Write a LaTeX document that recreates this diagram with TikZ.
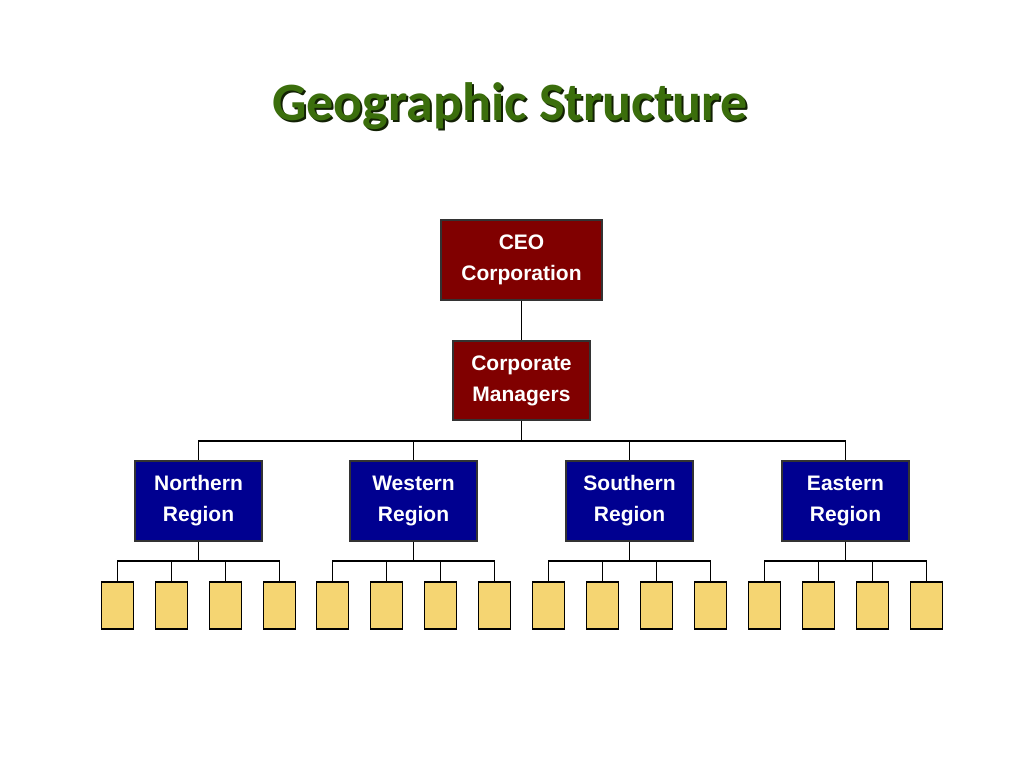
\documentclass[tikz,border=0pt]{standalone}
\usepackage{fontspec}
\setmainfont{Liberation Sans}
\newfontfamily\titlefont{Carlito}
\definecolor{tgreen}{HTML}{3B6E0C}
\definecolor{ceored}{HTML}{800000}
\definecolor{regblue}{HTML}{000090}
\definecolor{unityel}{HTML}{F5D572}
\begin{document}
\begin{tikzpicture}[x=1pt,y=-1pt,
  box/.style={draw=black!80,line width=1.2pt,text=white,font=\bfseries\fontsize{21}{31}\selectfont,align=center,inner sep=0pt},
  redbox/.style={box,fill=ceored},
  bluebox/.style={box,fill=regblue,minimum width=127pt,minimum height=80pt},
  unit/.style={draw=black,line width=1.2pt,fill=unityel,minimum width=32pt,minimum height=47pt,inner sep=0pt},
  conn/.style={line width=1.2pt,black}]
\useasboundingbox (0,0) rectangle (1024,768);
\node[text=black!70!tgreen,font=\titlefont\bfseries\fontsize{54}{60}\selectfont] at (512,108) {Geographic Structure};
\node[text=tgreen,font=\titlefont\bfseries\fontsize{54}{60}\selectfont] (title) at (510,106) {Geographic Structure};
\node[redbox,minimum width=161pt,minimum height=80pt] (ceo) at (521.5,260) {CEO\\Corporation};
\node[redbox,minimum width=137pt,minimum height=79pt] (cm) at (521.5,380.5) {Corporate\\Managers};
\draw[conn] (ceo.south) -- (cm.north);
\coordinate (bus) at (521.5,441);
\draw[conn] (cm.south) -- (bus);
\foreach \n/\x/\t in {n/198.5/Northern,w/413.5/Western,s/629.5/Southern,e/845.5/Eastern}{
  \node[bluebox] (\n) at (\x,501) {\t\\Region};
  \draw[conn] (bus) -| (\n.north);
  \coordinate (\n b) at (\x,561);
  \draw[conn] (\n.south) -- (\n b);
  \foreach \d [count=\i] in {-81,-27,27,81}{
    \node[unit] (\n u\i) at (\x+\d,605.5) {};
    \draw[conn] (\n b) -| (\n u\i.north);
  }
}
\end{tikzpicture}
\end{document}
